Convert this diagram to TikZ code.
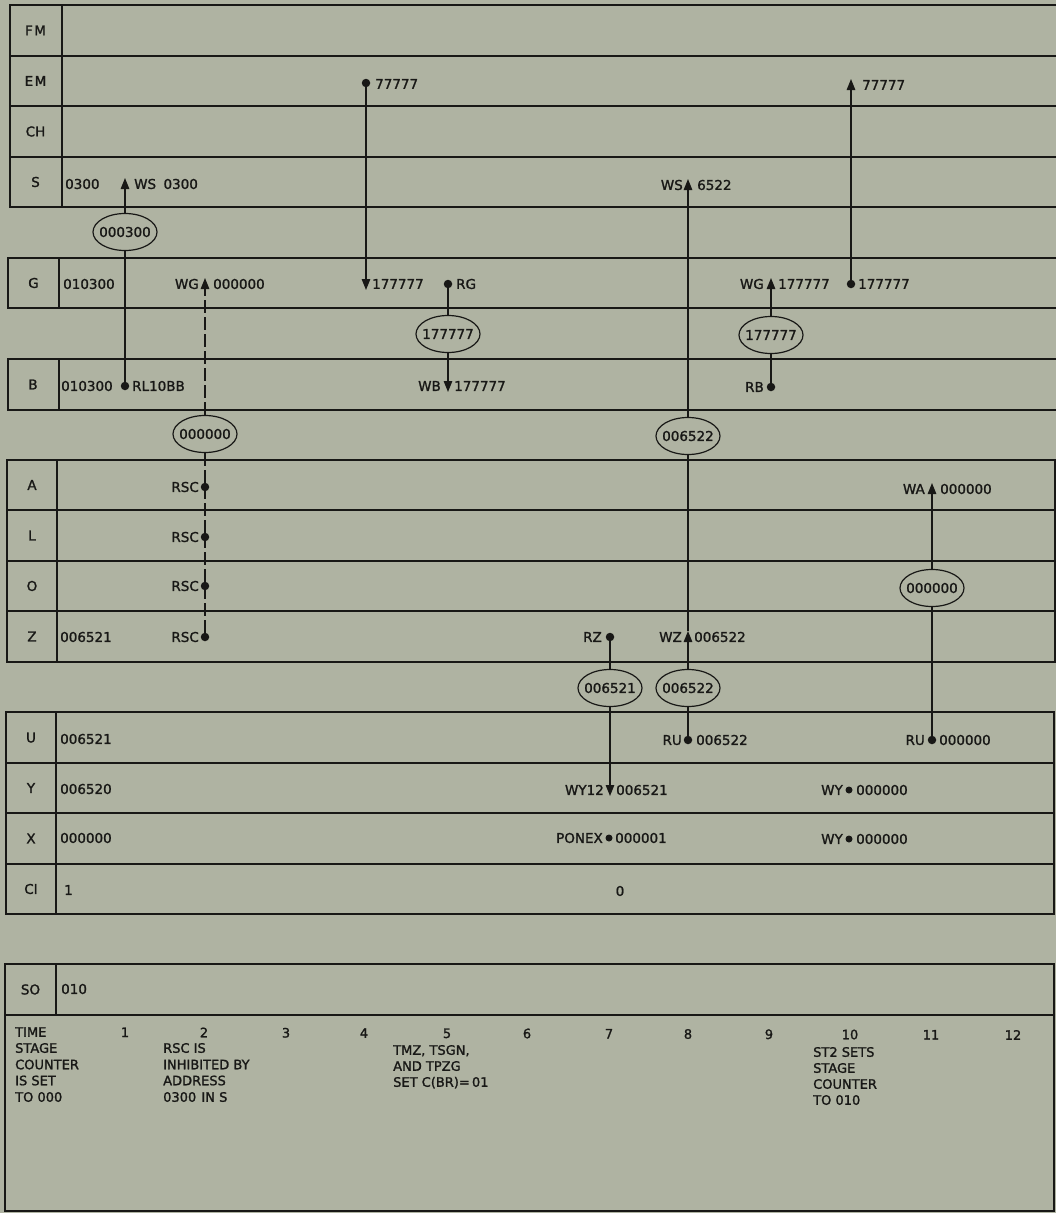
\documentclass[tikz,border=0pt]{standalone}
\usepackage{fontspec}
\setmainfont{DejaVu Sans}[FakeBold=1.4]
\usetikzlibrary{shapes.geometric,arrows.meta}
\definecolor{paper}{RGB}{175,179,162}
\definecolor{ink}{RGB}{24,24,22}
\begin{document}
\begin{tikzpicture}[x=1pt,y=-1pt,
  gridline/.style={draw=ink,line width=2pt},
  conn/.style={draw=ink,line width=1.3pt},
  dashconn/.style={conn,dash pattern=on 13pt off 4pt},
  tipend/.style={-{Triangle[length=11pt,width=8.5pt]}},
  dotn/.style={circle,fill=ink,inner sep=0pt,minimum size=8.5pt},
  smalldot/.style={dotn,minimum size=7pt},
  bus/.style={ellipse,draw=ink,line width=1.2pt,minimum width=64pt,minimum height=37pt,inner xsep=-5pt,inner ysep=0pt,text=ink,font=\fontsize{13.5}{15}\selectfont},
  txt/.style={inner sep=0pt,text=ink,text height=9.8pt,text depth=0pt,font=\fontsize{13.5}{15}\selectfont},
  rowlab/.style={txt,font=\fontsize{13.5}{15}\selectfont,text height=9.8pt},
  note/.style={txt,font=\fontsize{13}{15}\selectfont,text height=9.5pt,anchor=west},
]
\useasboundingbox (0,0) rectangle (1056,1213);
\fill[paper] (0,0) rectangle (1056,1213);

% ---------- grid ----------
\draw[gridline] (1056,5) -- (9.5,5) -- (9.5,207) -- (1056,207);
\draw[gridline] (61.5,5) -- (61.5,207);
\foreach \yy in {55.5,106,156.5} \draw[gridline] (9.5,\yy) -- (1056,\yy);
\draw[gridline] (1056,257.5) -- (8,257.5) -- (8,308) -- (1056,308);
\draw[gridline] (59,257.5) -- (59,308);
\draw[gridline] (1056,358.5) -- (7.5,358.5) -- (7.5,409.5) -- (1056,409.5);
\draw[gridline] (58.5,358.5) -- (58.5,409.5);
\draw[gridline] (6.5,459.5) rectangle (1055,661.5);
\draw[gridline] (57,459.5) -- (57,661.5);
\foreach \yy in {510,560.5,611} \draw[gridline] (6.5,\yy) -- (1055,\yy);
\draw[gridline] (5.5,712) rectangle (1054,914);
\draw[gridline] (56,712) -- (56,914);
\foreach \yy in {762.5,813,863.5} \draw[gridline] (5.5,\yy) -- (1054,\yy);
\draw[gridline] (5,964) rectangle (1054,1211);
\draw[gridline] (56,964) -- (56,1015);
\draw[gridline] (5,1015) -- (1054,1015);

% ---------- row labels ----------
\node[rowlab] (lFM) at (35.5,30.5) {F\kern1.5pt M};
\node[rowlab] (lEM) at (35.5,81) {E\kern1.5pt M};
\node[rowlab] (lCH) at (35.5,131.5) {CH};
\node[rowlab] (lS) at (35.5,182) {S};
\node[rowlab] (lG) at (33.5,283) {G};
\node[rowlab] (lB) at (33,384.5) {B};
\node[rowlab] (lA) at (32,485) {A};
\node[rowlab] (lL) at (32,535.5) {L};
\node[rowlab] (lO) at (32,586) {O};
\node[rowlab] (lZ) at (32,636.5) {Z};
\node[rowlab] (lU) at (31,737.5) {U};
\node[rowlab] (lY) at (31,788) {Y};
\node[rowlab] (lX) at (31,838.5) {X};
\node[rowlab] (lCI) at (31,889) {CI};
\node[rowlab] (lSO) at (30.5,989.5) {SO};

% ---------- initial contents ----------
\node[txt,anchor=west] (vS) at (65,184) {0300};
\node[txt,anchor=west] (vG) at (63,284) {010300};
\node[txt,anchor=west] (vB) at (61,386) {010300};
\node[txt,anchor=west] (vZ) at (60,637) {006521};
\node[txt,anchor=west] (vU) at (60,739) {006521};
\node[txt,anchor=west] (vY) at (60,789) {006520};
\node[txt,anchor=west] (vX) at (60,838) {000000};
\node[txt,anchor=west] (vCI) at (64,890) {1};
\node[txt,anchor=west] (vSO) at (61,989) {010};

% ---------- time 1: RL10BB -> WS ----------
\coordinate (wsA) at (125,178);
\node[txt,anchor=west] (wsAl) at (134,184) {WS\hspace{0.55em}0300};
\node[bus] (e1) at (125,232) {000300};
\node[dotn] (rl) at (125,386) {};
\node[txt,anchor=west] (rll) at (132,386) {RL10BB};
\draw[conn] (rl) -- (e1);
\draw[conn,tipend] (e1) -- (wsA);

% ---------- time 2: RSC (dashed) -> WG ----------
\coordinate (wgA) at (205,278);
\node[txt,anchor=east] (wgAl) at (199,284) {WG};
\node[txt,anchor=west] (wgAr) at (213,284) {000000};
\node[bus] (e2) at (205,434) {000000};
\node[dotn] (rscA) at (205,487) {};
\node[dotn] (rscL) at (205,537) {};
\node[dotn] (rscO) at (205,586) {};
\node[dotn] (rscZ) at (205,637) {};
\node[txt,anchor=east] (rscAl) at (199,487) {RSC};
\node[txt,anchor=east] (rscLl) at (199,537) {RSC};
\node[txt,anchor=east] (rscOl) at (199,586) {RSC};
\node[txt,anchor=east] (rscZl) at (199,637) {RSC};
\draw[dashconn] (rscZ) -- (rscO) -- (rscL) -- (rscA) -- (e2);
\draw[dashconn,tipend] (e2) -- (wgA);

% ---------- time 4: EM -> G ----------
\node[dotn] (emd) at (366,83) {};
\node[txt,anchor=west] (emdl) at (375,84) {77777};
\coordinate (gB) at (366,290);
\node[txt,anchor=west] (gBl) at (372,284) {177777};
\draw[conn,tipend] (emd) -- (gB);

% ---------- time 5: RG -> WB ----------
\node[dotn] (rgd) at (448,284) {};
\node[txt,anchor=west] (rgdl) at (456,284) {RG};
\node[bus] (e3) at (448,334) {177777};
\coordinate (wbB) at (448,392);
\node[txt,anchor=east] (wbBl) at (441,386) {WB};
\node[txt,anchor=west] (wbBr) at (454,386) {177777};
\draw[conn] (rgd) -- (e3);
\draw[conn,tipend] (e3) -- (wbB);

% ---------- time 7: RZ -> WY12 ----------
\node[dotn] (rzd) at (610,637) {};
\node[txt,anchor=east] (rzdl) at (602,637) {RZ};
\node[bus] (e6) at (610,688) {006521};
\coordinate (wyB) at (610,796);
\node[txt,anchor=east] (wyBl) at (604,790) {WY12};
\node[txt,anchor=west] (wyBr) at (616,790) {006521};
\draw[conn] (rzd) -- (e6);
\draw[conn,tipend] (e6) -- (wyB);

% ---------- time 8: RU -> WZ, WS ----------
\node[dotn] (ru1) at (688,740) {};
\node[txt,anchor=east] (ru1l) at (682,740) {RU};
\node[txt,anchor=west] (ru1r) at (696,740) {006522};
\node[bus] (e4) at (688,688) {006522};
\coordinate (wzA) at (688,631);
\node[txt,anchor=east] (wzAl) at (682,637) {WZ};
\node[txt,anchor=west] (wzAr) at (694,637) {006522};
\node[bus] (e5) at (688,436) {006522};
\coordinate (wsB) at (688,179);
\node[txt,anchor=east] (wsBl) at (683,185) {WS};
\node[txt,anchor=west] (wsBr) at (697,185) {6522};
\draw[conn] (ru1) -- (e4);
\draw[conn,tipend] (e4) -- (wzA);
\draw[conn] (wzA) -- (e5);
\draw[conn,tipend] (e5) -- (wsB);

% ---------- time 9: RB -> WG ----------
\node[dotn] (rbd) at (771,387) {};
\node[txt,anchor=east] (rbdl) at (764,387) {RB};
\node[bus] (e7) at (771,335) {177777};
\coordinate (wgB) at (771,278);
\node[txt,anchor=east] (wgBl) at (764,284) {WG};
\node[txt,anchor=west] (wgBr) at (778,284) {177777};
\draw[conn] (rbd) -- (e7);
\draw[conn,tipend] (e7) -- (wgB);

% ---------- time 10: G -> EM ----------
\node[dotn] (gd) at (851,284) {};
\node[txt,anchor=west] (gdl) at (858,284) {177777};
\coordinate (emA) at (851,79);
\node[txt,anchor=west] (emAl) at (862,85) {77777};
\draw[conn,tipend] (gd) -- (emA);

% ---------- time 11: RU -> WA ----------
\node[dotn] (ru2) at (932,740) {};
\node[txt,anchor=east] (ru2l) at (925,740) {RU};
\node[txt,anchor=west] (ru2r) at (939,740) {000000};
\node[bus] (e8) at (932,588) {000000};
\coordinate (waA) at (932,483);
\node[txt,anchor=east] (waAl) at (925,489) {WA};
\node[txt,anchor=west] (waAr) at (940,489) {000000};
\draw[conn] (ru2) -- (e8);
\draw[conn,tipend] (e8) -- (waA);

% ---------- Y, X, CI rows ----------
\node[smalldot] (wyd1) at (849,790) {};
\node[txt,anchor=east] (wyd1l) at (843,790) {WY};
\node[txt,anchor=west] (wyd1r) at (856,790) {000000};
\node[smalldot] (pxd) at (609,838) {};
\node[txt,anchor=east] (pxdl) at (603,838) {PONEX};
\node[txt,anchor=west] (pxdr) at (615,838) {000001};
\node[smalldot] (wyd2) at (849,839) {};
\node[txt,anchor=east] (wyd2l) at (843,839) {WY};
\node[txt,anchor=west] (wyd2r) at (856,839) {000000};
\node[txt] (ci0) at (620,891) {0};

% ---------- time row ----------
\node[note] (tm0) at (15,1032) {TIME};
\foreach \n/\xx in {1/125,2/204,3/286,4/364,5/447,6/527,7/609,8/688,9/769,10/850,11/931,12/1013}
  \node[note,anchor=center] (tn\n) at (\xx,{1032+0.25*\n}) {\n};
\node[note] (n1a) at (15,1048) {STAGE};
\node[note] (n1b) at (15,1064.5) {COUNTER};
\node[note] (n1c) at (15,1080.5) {IS SET};
\node[note] (n1d) at (15,1097) {TO 000};
\node[note] (n2a) at (163,1048) {RSC IS};
\node[note] (n2b) at (163,1064.5) {INHIBITED BY};
\node[note] (n2c) at (163,1080.5) {ADDRESS};
\node[note] (n2d) at (163,1097) {0300\hspace{0.4em}IN S};
\node[note] (n5a) at (393,1050) {TMZ, TSGN,};
\node[note] (n5b) at (393,1066) {AND TPZG};
\node[note] (n5c) at (393,1082) {SET C(BR)=\,01};
\node[note] (n10a) at (813,1052) {ST2 SETS};
\node[note] (n10b) at (813,1068) {STAGE};
\node[note] (n10c) at (813,1084) {COUNTER};
\node[note] (n10d) at (813,1100) {TO 010};
\end{tikzpicture}
\end{document}
